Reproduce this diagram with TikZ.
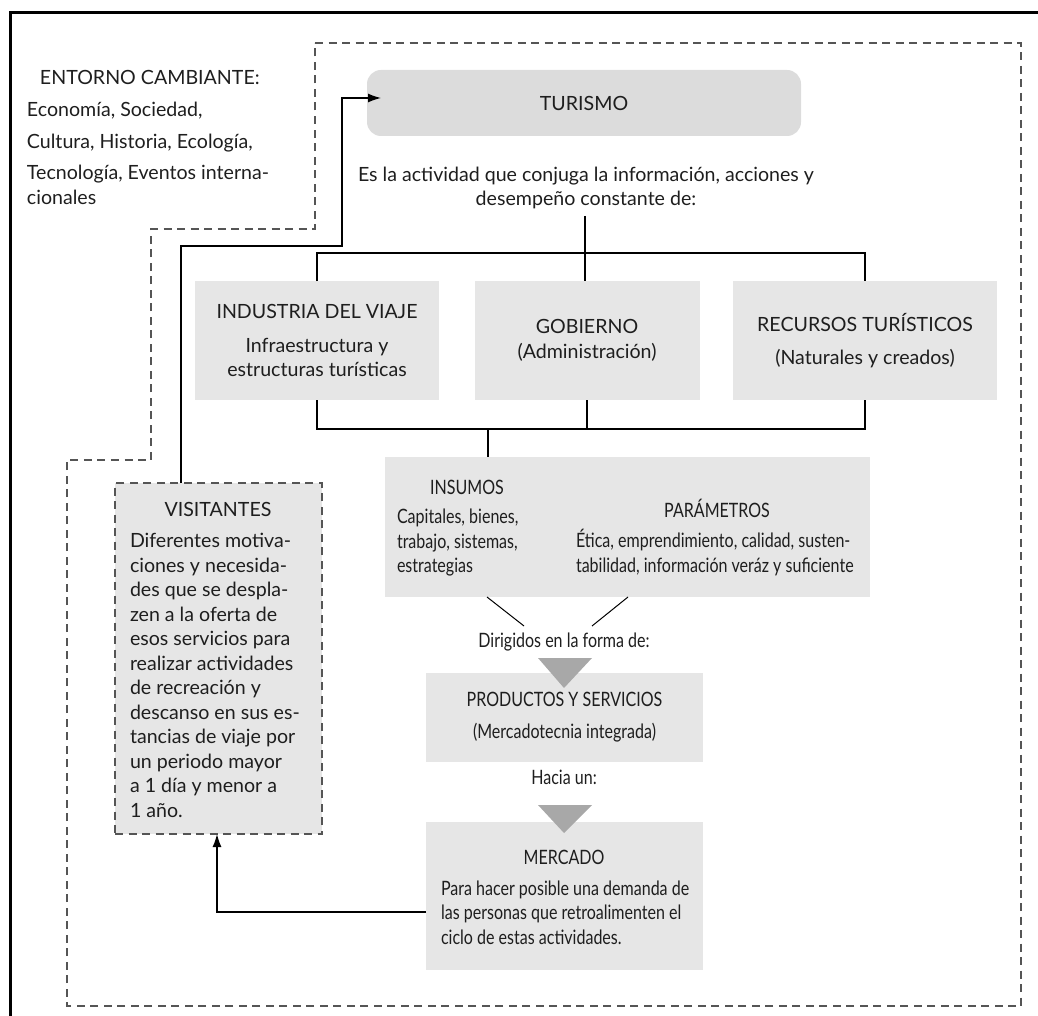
\documentclass[tikz,border=0pt]{standalone}
\usepackage{fontspec}
\setmainfont{Lato}
\newfontfamily\condfont[FakeStretch=0.81]{Lato}
\usetikzlibrary{arrows.meta,calc}
\definecolor{boxgray}{HTML}{E6E6E6}
\definecolor{turgray}{HTML}{DCDCDC}
\definecolor{trigray}{HTML}{A8A8A8}
\definecolor{dashgray}{HTML}{555555}
\definecolor{txt}{HTML}{1E1E1E}
\begin{document}
\begin{tikzpicture}[x=1pt,y=-1pt,
  every node/.style={text=txt, inner sep=0pt, outer sep=0pt},
  font=\fontsize{19.6}{24.5}\selectfont,
  cnd/.style={font=\condfont\fontsize{19.8}{24.5}\selectfont},
  gbox/.style={fill=boxgray, draw=none, align=center},
  dashline/.style={draw=dashgray, line width=1.4pt, dash pattern=on 8pt off 5.5pt},
  conn/.style={draw=black, line width=1.3pt},
  arr/.style={conn, -{Latex[length=13pt,width=9pt]}}
]
\useasboundingbox (0,0) rectangle (1038,1016);
% outer black frame
\draw[line width=3pt] (10,1016) -- (10,13) -- (1038,13);
% dashed environment region
\draw[dashline] (315,43) -- (1021,43) -- (1021,1006) -- (67,1006) -- (67,460)
  -- (151,460) -- (151,229) -- (315,229) -- cycle;

% entorno text
\node[anchor=west, align=left] (entorno) at (27,137)
  {\hspace*{13pt}ENTORNO CAMBIANTE:\\[7.5pt]
   Economía, Sociedad,\\[7.5pt]
   Cultura, Historia, Ecología,\\[7pt]
   Tecnología, Eventos interna-\\
   cionales};

% TURISMO
\node[fill=turgray, rounded corners=14pt, minimum width=434pt, minimum height=66pt]
  (tur) at (584,103) {TURISMO};

\node[align=center] (esla) at (586,188)
  {Es la actividad que conjuga la información, acciones y\\desempeño constante de:};

% three boxes
\node[gbox, minimum width=244pt, minimum height=119pt] (ind) at (317,340.5)
  {INDUSTRIA DEL VIAJE\\[9pt]Infraestructura y\\estructuras turísticas};
\node[gbox, minimum width=225pt, minimum height=119pt] (gob) at (587,340.5)
  {GOBIERNO\\(Administración)};
\node[gbox, minimum width=264pt, minimum height=119pt] (rec) at (865,340.5)
  {RECURSOS TURÍSTICOS\\[8pt](Naturales y creados)};

% insumos / parametros box
\node[fill=boxgray, minimum width=485pt, minimum height=140pt] (ins) at (627.5,527) {};
\node[cnd] (insT) at (467,487) {INSUMOS};
\node[cnd, anchor=west, align=left] (insB) at (397,543)
  {Capitales, bienes,\\trabajo, sistemas,\\estrategias};
\node[cnd] (parT) at (717,508) {PARÁMETROS};
\node[cnd, anchor=west, align=left] (parB) at (576,552.5)
  {Ética, emprendimiento, calidad, susten-\\tabilidad, información veráz y suficiente};

\node[cnd] (dir) at (564,642) {Dirigidos en la forma de:};

% productos
\node[gbox, cnd, minimum width=277pt, minimum height=89pt] (prod) at (564.5,717.5)
  {PRODUCTOS Y SERVICIOS\\[7.5pt](Mercadotecnia integrada)};
\fill[trigray] (538,658) -- (592,658) -- (564,688) -- cycle;

\node[cnd] (hacia) at (564,777) {Hacia un:};

% mercado
\node[fill=boxgray, minimum width=277pt, minimum height=148pt] (merc) at (564.5,896) {};
\node[cnd] (mercT) at (564,857) {MERCADO};
\node[cnd, anchor=west, align=left] (mercB) at (441,912.5)
  {Para hacer posible una demanda de\\las personas que retroalimenten el\\ciclo de estas actividades.};
\fill[trigray] (538,805) -- (592,805) -- (564,833) -- cycle;

% visitantes
\node[fill=boxgray, dashline, minimum width=207pt, minimum height=351pt] (vis) at (218.5,658.5) {};
\node (visT) at (218,509) {VISITANTES};
\node[anchor=west, align=left] (visB) at (130,675.5)
  {Diferentes motiva-\\ciones y necesida-\\des que se despla-\\zen a la oferta de\\esos servicios para\\realizar actividades\\de recreación y\\descanso en sus es-\\tancias de viaje por\\un periodo mayor\\a 1 día y menor a\\1 año.};

% connectors top bracket
\coordinate (esbot) at (585,216);
\draw[conn] (esbot) -- (esbot |- gob.north);
\draw[conn] (ind.north) -- (ind.north |- 0,253) -- (rec.north |- 0,253) -- (rec.north);
% bottom bracket
\draw[conn] (ind.south) -- (ind.south |- 0,429) -- (rec.south |- 0,429) -- (rec.south);
\draw[conn] (gob.south) -- (gob.south |- 0,429);
\coordinate (jn) at (488,429);
\draw[conn] (jn) -- (jn |- ins.north);
% diagonals
\coordinate (d1a) at (487,597); \coordinate (d1b) at (524,626);
\coordinate (d2a) at (628,597); \coordinate (d2b) at (592,626);
\draw[draw=black, line width=1pt] (d1a) -- (d1b);
\draw[draw=black, line width=1pt] (d2a) -- (d2b);

% feedback arrows
\coordinate (turin) at (381,98);
\draw[arr] (vis.north -| 181,0) |- (342,246) |- (turin);
\draw[arr] (merc.west |- 0,912) -| (vis.south -| 217,0);
\end{tikzpicture}
\end{document}
